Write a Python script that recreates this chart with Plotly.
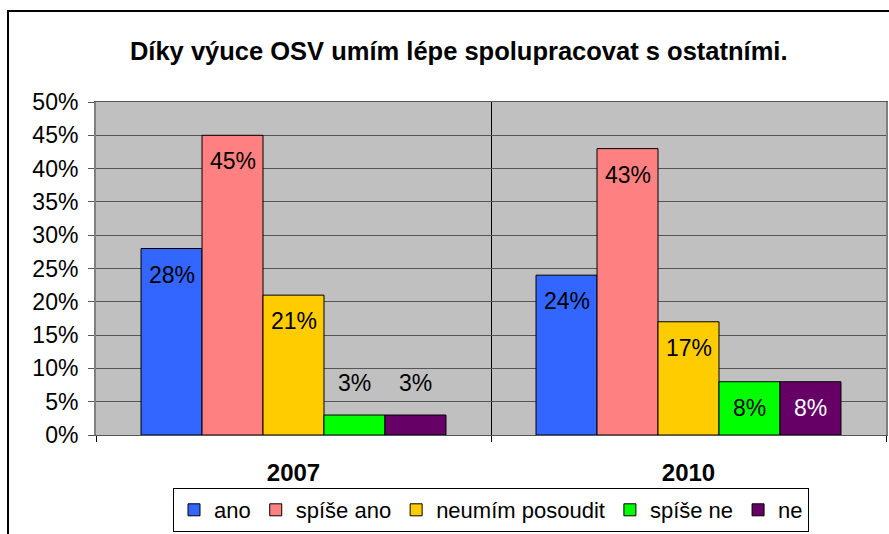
import plotly.graph_objects as go

categories = ["2007", "2010"]
series_names = ["ano", "spíše ano", "neumím posoudit", "spíše ne", "ne"]
values = {
    "ano": [28, 24],
    "spíše ano": [45, 43],
    "neumím posoudit": [21, 17],
    "spíše ne": [3, 8],
    "ne": [3, 8],
}
colors = ["#3366FF", "#FF8080", "#FFCC00", "#00FF00", "#660066"]
y_ticks = [0, 5, 10, 15, 20, 25, 30, 35, 40, 45, 50]
y_tick_labels = [f"{t}%" for t in y_ticks]

FONT = "Liberation Sans, Arial, sans-serif"
bargap = 0.228
n = len(series_names)
bw = (1 - bargap) / n

fig = go.Figure()
annotations = []
for j, name in enumerate(series_names):
    fig.add_trace(go.Bar(
        x=categories, y=values[name], name=name,
        marker=dict(color=colors[j], line=dict(color="black", width=1)),
    ))
    for i, v in enumerate(values[name]):
        inside = v > 5
        txtcol = "white" if (inside and name == "ne") else "black"
        annotations.append(dict(
            x=i + (j - (n - 1) / 2) * bw, y=v, xref="x", yref="y",
            text=f"{v}%", showarrow=False,
            yshift=-26 if inside else 32,
            font=dict(family=FONT, size=23, color=txtcol),
        ))

# Outer chart frame
fig.add_shape(type="rect", xref="paper", yref="paper",
              x0=-0.1114, x1=1.05, y0=-0.35, y1=1.273,
              line=dict(color="black", width=2), fillcolor="rgba(0,0,0,0)", layer="below")

fig.update_layout(
    width=889, height=534,
    margin=dict(l=96, r=3, t=102, b=99, autoexpand=False),
    paper_bgcolor="white",
    plot_bgcolor="#C0C0C0",
    barmode="group",
    bargap=bargap,
    bargroupgap=0,
    font=dict(family=FONT, size=23, color="black"),
    title=dict(text="<b>Díky výuce OSV umím lépe spolupracovat s ostatními.</b>",
               x=0.516, xanchor="center", y=0.905, yanchor="middle",
               font=dict(family=FONT, size=25.5, color="black")),
    xaxis=dict(
        type="category", showline=True, linecolor="#555555", linewidth=1,
        mirror=True, ticks="outside", tickson="boundaries", ticklen=6,
        tickcolor="black", showgrid=True, gridcolor="black", gridwidth=1,
        tickfont=dict(family=FONT, size=24, color="black"),
        tickprefix="<b>", ticksuffix="</b>",
        ticklabelstandoff=16,
    ),
    yaxis=dict(
        range=[0, 50], tickvals=y_ticks, ticktext=y_tick_labels,
        showline=True, linecolor="#808080", linewidth=2, mirror=True,
        ticks="outside", ticklen=6, tickcolor="#555555",
        showgrid=True, gridcolor="#555555", gridwidth=1, zeroline=False,
        tickfont=dict(family=FONT, size=23, color="black"),
        ticklabelstandoff=5,
    ),
    legend=dict(
        orientation="h", x=0.5, xanchor="center",
        yref="container", y=1 - 488 / 534, yanchor="top",
        bordercolor="black", borderwidth=1, bgcolor="white",
        font=dict(family=FONT, size=22, color="black"),
        itemwidth=30, tracegroupgap=0,
    ),
    annotations=annotations,
    showlegend=True,
)

fig.write_html("out.html", config={"displayModeBar": False},
               post_script="document.body.style.margin='0';")
